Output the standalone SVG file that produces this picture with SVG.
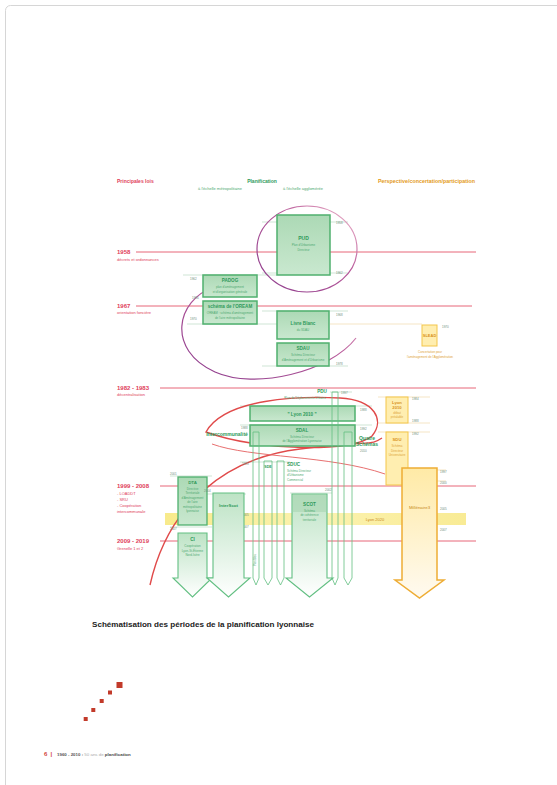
<svg xmlns="http://www.w3.org/2000/svg" width="557" height="785" viewBox="0 0 557 785">
<defs>
  <linearGradient id="gArrow" x1="0" y1="0" x2="0" y2="1">
    <stop offset="0" stop-color="#bde3c5"/><stop offset="1" stop-color="#ffffff"/>
  </linearGradient>
  <linearGradient id="gBox" x1="0" y1="0" x2="0" y2="1">
    <stop offset="0" stop-color="#acd9b5"/><stop offset="1" stop-color="#c9e8cf"/>
  </linearGradient>
  <linearGradient id="oArrow" x1="0" y1="0" x2="0" y2="1">
    <stop offset="0" stop-color="#ffeaa6"/><stop offset="1" stop-color="#fffaf0"/>
  </linearGradient>
  <linearGradient id="purp" x1="0" y1="1" x2="1" y2="0">
    <stop offset="0" stop-color="#8a3a8c"/><stop offset="0.6" stop-color="#b85a9a"/><stop offset="1" stop-color="#f3c0d0"/>
  </linearGradient>
  <linearGradient id="band" x1="0" y1="0" x2="1" y2="0">
    <stop offset="0" stop-color="#f6e56e"/><stop offset="0.5" stop-color="#fbef9c"/><stop offset="1" stop-color="#f7e67a"/>
  </linearGradient>
  <style>
    text{font-family:'Liberation Sans',Arial,sans-serif}
    .red{stroke:#e4566a;stroke-width:0.9;fill:none}
    .gbox{fill:url(#gBox);stroke:#4fb06e;stroke-width:1.5}
    .garrow{fill:url(#gArrow);stroke:#62bf82;stroke-width:1.1}
    .ncol{fill:none;stroke:#62bf82;stroke-width:0.8}
    .obox{fill:#ffeeb0;stroke:#f3c64a;stroke-width:1}
    .guide{stroke:#9cc9a8;stroke-width:0.5;fill:none}
    .oguide{stroke:#e8c98a;stroke-width:0.5;fill:none}
    .yr{font-size:6px;font-weight:bold;fill:#e0405a}
    .yrs{font-size:4px;fill:#e0405a}
    .gb{font-weight:bold;fill:#2f9a5a;text-anchor:middle}
    .gs{fill:#4faa72;text-anchor:middle;font-size:3px}
    .ob{font-weight:bold;fill:#d9921c;text-anchor:middle}
    .os{fill:#e0a338;text-anchor:middle;font-size:3px}
    .tiny{font-size:3px;fill:#6f8f7b}
  </style>
</defs>

<rect x="5.5" y="5.5" width="560" height="790" rx="5" fill="#ffffff" stroke="#d6d6d6"/>

<!-- headers -->
<g id="headers">
  <text x="117" y="183" font-size="5" font-weight="bold" fill="#e0405a">Principales lois</text>
  <text x="262" y="183" font-size="5" font-weight="bold" fill="#2f9a5a" text-anchor="middle">Planification</text>
  <text x="220" y="190" font-size="4" fill="#4faa72" text-anchor="middle">à l'échelle métropolitaine</text>
  <text x="303" y="190" font-size="4" fill="#4faa72" text-anchor="middle">à l'échelle agglomérée</text>
  <text x="378" y="183" font-size="4.6" font-weight="bold" fill="#e39a22" textLength="97" lengthAdjust="spacingAndGlyphs">Perspective/concertation/participation</text>
</g>

<!-- laws -->
<g id="laws">
  <line class="red" x1="136" y1="252" x2="476" y2="252"/>
  <line class="red" x1="136" y1="306" x2="472" y2="306"/>
  <line class="red" x1="160" y1="388" x2="476" y2="388"/>
  <line class="red" x1="160" y1="486" x2="476" y2="486"/>
  <line class="red" x1="160" y1="541" x2="476" y2="541"/>
  <text class="yr" x="117" y="254">1958</text>
  <text class="yrs" x="117" y="261">décrets et ordonnances</text>
  <text class="yr" x="117" y="308">1967</text>
  <text class="yrs" x="117" y="314">orientation foncière</text>
  <text class="yr" x="117" y="390">1982 - 1983</text>
  <text class="yrs" x="117" y="396">décentralisation</text>
  <text class="yr" x="117" y="488">1999 - 2008</text>
  <text class="yrs" x="117" y="495">- LOADDT</text>
  <text class="yrs" x="117" y="501">- SRU</text>
  <text class="yrs" x="117" y="507">- Coopération</text>
  <text class="yrs" x="117" y="513">intercommunale</text>
  <text class="yr" x="117" y="543">2009 - 2019</text>
  <text class="yrs" x="117" y="550">Grenelle 1 et 2</text>
</g>

<!-- yellow band -->
<g id="lyon2020">
  <rect x="165" y="513" width="301" height="12" fill="url(#band)" opacity="0.8"/>
  <text x="375" y="521" font-size="4" fill="#c98a1a" text-anchor="middle">Lyon 2020</text>
</g>

<!-- connectors / guides -->
<g id="connectors">
  <line class="guide" x1="262" y1="222" x2="348" y2="222"/>
  <line class="guide" x1="262" y1="273" x2="348" y2="273"/>
  <line class="guide" x1="183" y1="275" x2="277" y2="275"/>
  <line class="guide" x1="187" y1="324" x2="277" y2="324" stroke="#6fc4c4"/>
  <line class="guide" x1="262" y1="311" x2="348" y2="311"/>
  <line class="guide" x1="262" y1="366" x2="348" y2="366"/>
  <line class="oguide" x1="330" y1="324" x2="422" y2="324" stroke="#f0b050"/>
  <line class="guide" x1="240" y1="406" x2="372" y2="406"/>
  <line class="guide" x1="240" y1="425" x2="372" y2="425"/>
  <line class="guide" x1="330" y1="392" x2="352" y2="392"/>
  <line class="guide" x1="170" y1="476" x2="212" y2="476"/>
  <line class="guide" x1="170" y1="527" x2="212" y2="527"/>
  <line class="guide" x1="205" y1="494" x2="246" y2="494"/>
  <line class="guide" x1="290" y1="493" x2="332" y2="493"/>
  <line class="guide" x1="240" y1="462" x2="290" y2="462"/>
  <line class="oguide" x1="378" y1="397" x2="430" y2="397"/>
  <line class="oguide" x1="378" y1="423" x2="430" y2="423"/>
  <line class="oguide" x1="378" y1="432" x2="430" y2="432"/>
  <line class="oguide" x1="395" y1="470" x2="446" y2="470"/>
  <line class="oguide" x1="395" y1="481" x2="446" y2="481"/>
  <!-- purple loops -->
  <ellipse cx="307" cy="249" rx="50" ry="43" fill="none" stroke="url(#purp)" stroke-width="1.2"/>
  <path d="M214,287 C176,300 166,350 215,372 C255,390 330,372 356,338" fill="none" stroke="url(#purp)" stroke-width="1.2"/>
  <!-- red loops -->
  <path d="M206,432 C225,398 300,396 340,398 C375,400 385,420 372,436 C355,452 260,452 206,432 Z" fill="none" stroke="#e04a4a" stroke-width="1.4"/>
  <path d="M150,585 C168,505 225,458 300,449 S370,446 382,438" fill="none" stroke="#e04a4a" stroke-width="1.4"/>
  <path d="M212,444 C250,458 330,455 385,474" fill="none" stroke="#e87070" stroke-width="1"/>
</g>

<!-- metropolitan scale -->
<g id="padog">
  <rect class="gbox" x="203" y="275" width="54" height="22"/>
  <text class="gb" x="230" y="282" font-size="4.6">PADOG</text>
  <text class="gs" x="230" y="288">plan d'aménagement</text>
  <text class="gs" x="230" y="292.5">et d'organisation générale</text>
  <text class="tiny" x="190" y="280">1962</text>
</g>
<g id="oream">
  <rect class="gbox" x="203" y="301" width="54" height="23"/>
  <text class="gb" x="230" y="308" font-size="4.6">schéma de l'OREAM</text>
  <text class="gs" x="230" y="314">OREAM : schéma d'aménagement</text>
  <text class="gs" x="230" y="319">de l'aire métropolitaine</text>
  <text class="tiny" x="192" y="299">1966</text>
  <text class="tiny" x="190" y="320">1970</text>
</g>

<!-- agglomeration scale -->
<g id="pud">
  <rect class="gbox" x="277" y="215" width="53" height="60"/>
  <text class="gb" x="303.5" y="240" font-size="5">PUD</text>
  <text class="gs" x="303.5" y="246">Plan d'Urbanisme</text>
  <text class="gs" x="303.5" y="251">Directeur</text>
  <text class="tiny" x="336" y="224">1958</text>
  <text class="tiny" x="336" y="274">1962</text>
</g>
<g id="livreblanc">
  <rect class="gbox" x="277" y="311" width="52" height="28"/>
  <text class="gb" x="303" y="325" font-size="4.6">Livre Blanc</text>
  <text class="gs" x="303" y="330.5">du SDAU</text>
  <text class="tiny" x="336" y="316">1968</text>
</g>
<g id="sdau">
  <rect class="gbox" x="277" y="343" width="52" height="23"/>
  <text class="gb" x="303" y="350" font-size="4.6">SDAU</text>
  <text class="gs" x="303" y="355.5">Schéma Directeur</text>
  <text class="gs" x="303" y="360.5">d'Aménagement et d'Urbanisme</text>
  <text class="tiny" x="336" y="365">1978</text>
</g>
<g id="slead">
  <rect class="obox" x="422" y="325" width="15" height="21"/>
  <text class="ob" x="429.5" y="337" font-size="4">SLEAD</text>
  <text class="tiny" x="442" y="328" fill="#d9a040">1970</text>
  <text class="os" x="430" y="353">Concertation pour</text>
  <text class="os" x="430" y="358">l'aménagement de l'Agglomération</text>
</g>

<g id="pdu">
  <text class="gb" x="322" y="393" font-size="4.6">PDU</text>
  <text class="gs" x="305" y="398.5">Plan de Déplacements Urbains</text>
  <text class="tiny" x="341" y="394">1997</text>
</g>
<g id="lyon2010">
  <rect class="gbox" x="250" y="406" width="105" height="15"/>
  <text class="gb" x="302" y="415.5" font-size="4.6">" Lyon 2010 "</text>
  <text class="tiny" x="360" y="411">1988</text>
</g>
<g id="sdal">
  <rect class="gbox" x="250" y="425" width="105" height="21"/>
  <text class="gb" x="302" y="432" font-size="4.6">SDAL</text>
  <text class="gs" x="302" y="437.5">Schéma Directeur</text>
  <text class="gs" x="302" y="442">de l'Agglomération Lyonnaise</text>
  <text class="tiny" x="360" y="430">1992</text>
  <text class="tiny" x="360" y="452">2010</text>
  <text class="tiny" x="241" y="429">1988</text>
  <text x="227" y="436" font-size="5" font-weight="bold" fill="#2f9a5a" text-anchor="middle">Intercommunalité</text>
  <text x="367" y="440" font-size="5" font-weight="bold" fill="#2f9a5a" text-anchor="middle">Quatre</text>
  <text x="367" y="446" font-size="5" font-weight="bold" fill="#2f9a5a" text-anchor="middle">Schémas</text>
</g>

<!-- narrow columns -->
<g id="columns">
  <path class="ncol" d="M253,432 H259 V578 L256,585 L253,578 Z"/>
  <text x="256" y="560" font-size="2.8" fill="#4faa72" text-anchor="middle" transform="rotate(-90 256 560)">Plan Bleu</text>
  <path class="ncol" d="M264,461 H272 V578 L268,585 L264,578 Z"/>
  <text class="gb" x="268" y="468" font-size="3.6">SDE</text>
  <path class="ncol" d="M277,461 H284 V578 L280.5,585 L277,578 Z"/>
  <path class="ncol" d="M332,392 H338 V578 L335,585 L332,578 Z"/>
  <path class="ncol" d="M344,432 H352 V578 L348,585 L344,578 Z"/>
  <text class="tiny" x="242" y="465">1993</text>
  <text class="tiny" x="242" y="516">2005</text>
  <text class="tiny" x="242" y="528">2007</text>
</g>
<g id="sduc">
  <text x="287" y="466" font-size="4.6" font-weight="bold" fill="#2f9a5a">SDUC</text>
  <text x="287" y="471.5" font-size="3" fill="#4faa72">Schéma Directeur</text>
  <text x="287" y="476" font-size="3" fill="#4faa72">d'Urbanisme</text>
  <text x="287" y="480.5" font-size="3" fill="#4faa72">Commercial</text>
</g>

<!-- 2000s -->
<g id="dta">
  <rect x="178" y="477" width="29" height="48" fill="url(#gBox)" stroke="#4fb06e" stroke-width="1.3"/>
  <text class="gb" x="192.5" y="484" font-size="4.4">DTA</text>
  <text class="gs" x="192.5" y="489.5">Directive</text>
  <text class="gs" x="192.5" y="494">Territoriale</text>
  <text class="gs" x="192.5" y="498.5">d'Aménagement</text>
  <text class="gs" x="192.5" y="503">de l'aire</text>
  <text class="gs" x="192.5" y="507.5">métropolitaine</text>
  <text class="gs" x="192.5" y="512">lyonnaise</text>
  <text class="tiny" x="170" y="475">2001</text>
  <text class="tiny" x="170" y="530">2007</text>
</g>
<g id="ci">
  <path class="garrow" d="M178,533 H207 V578 H212 L192.5,597 L173,578 H178 Z"/>
  <text class="gb" x="192.5" y="541" font-size="4.6">CI</text>
  <text class="gs" x="192.5" y="547">Coopération</text>
  <text class="gs" x="192.5" y="551.5">Lyon-St-Étienne</text>
  <text class="gs" x="192.5" y="556">Nord-Isère</text>
</g>
<g id="interscot">
  <path class="garrow" d="M213,493 H244 V578 H250 L228.5,597 L207,578 H213 Z"/>
  <text class="gb" x="228.5" y="507" font-size="4.4">InterScot</text>
  <text class="tiny" x="204" y="492">2004</text>
</g>
<g id="scot">
  <path class="garrow" d="M292,494 H327 V578 H333 L309.5,597 L286,578 H292 Z"/>
  <path d="M292.6,494.6 H326.4 V512 H292.6 Z" fill="#a9d6b3" opacity="0.6"/>
  <text class="gb" x="309.5" y="506" font-size="4.6">SCOT</text>
  <text class="gs" x="309.5" y="511.5">Schéma</text>
  <text class="gs" x="309.5" y="516">de cohérence</text>
  <text class="gs" x="309.5" y="520.5">territoriale</text>
  <text class="tiny" x="325" y="491">2002</text>
</g>

<!-- orange -->
<g id="lyon2010o">
  <rect class="obox" x="386" y="397" width="22" height="26"/>
  <text class="ob" x="397" y="404" font-size="4.2">Lyon</text>
  <text class="ob" x="397" y="409" font-size="4.2">2010</text>
  <text class="os" x="397" y="414">débat</text>
  <text class="os" x="397" y="418">préalable</text>
  <text class="tiny" x="412" y="400" fill="#d9a040">1984</text>
  <text class="tiny" x="412" y="422" fill="#d9a040">1988</text>
</g>
<g id="sdu">
  <rect class="obox" x="386" y="432" width="22" height="53"/>
  <text class="ob" x="397" y="441" font-size="4.2">SDU</text>
  <text class="os" x="397" y="447">Schéma</text>
  <text class="os" x="397" y="451.5">Directeur</text>
  <text class="os" x="397" y="456">Universitaire</text>
  <text class="tiny" x="412" y="435" fill="#d9a040">1992</text>
</g>
<g id="millenaire3">
  <path d="M402,468 H437 V580 H444 L419.5,598 L395,580 H402 Z" fill="url(#oArrow)" stroke="#eead35" stroke-width="1.5"/>
  <text x="419.5" y="509" font-size="4.4" fill="#c98a1a" text-anchor="middle">Millénaire3</text>
  <text class="tiny" x="440" y="473" fill="#d9a040">1997</text>
  <text class="tiny" x="440" y="484" fill="#d9a040">2000</text>
  <text class="tiny" x="440" y="510" fill="#d9a040">2005</text>
  <text class="tiny" x="440" y="531" fill="#d9a040">2007</text>
</g>

<!-- caption -->
<g id="caption">
  <text x="92" y="627" font-size="7" font-weight="bold" fill="#222" textLength="222" lengthAdjust="spacingAndGlyphs">Schématisation des périodes de la planification lyonnaise</text>
</g>

<!-- decoration -->
<g id="squares" fill="#c23a2a">
  <rect x="116.5" y="682" width="6" height="6"/>
  <rect x="108" y="690.5" width="4" height="4"/>
  <rect x="99.7" y="699" width="4" height="4"/>
  <rect x="91.3" y="708" width="4" height="4"/>
  <rect x="83.7" y="717" width="4" height="4"/>
</g>

<g id="footer">
  <text x="44" y="756" font-size="6" font-weight="bold" fill="#d2463c">6</text>
  <text x="50.5" y="756" font-size="6" font-weight="bold" fill="#d2463c">|</text>
  <text x="57" y="755.5" font-size="4.4"><tspan font-weight="bold" fill="#555">1960 - 2010 :</tspan><tspan fill="#aaa"> 50 ans de </tspan><tspan font-weight="bold" fill="#444">planification</tspan></text>
</g>
</svg>
